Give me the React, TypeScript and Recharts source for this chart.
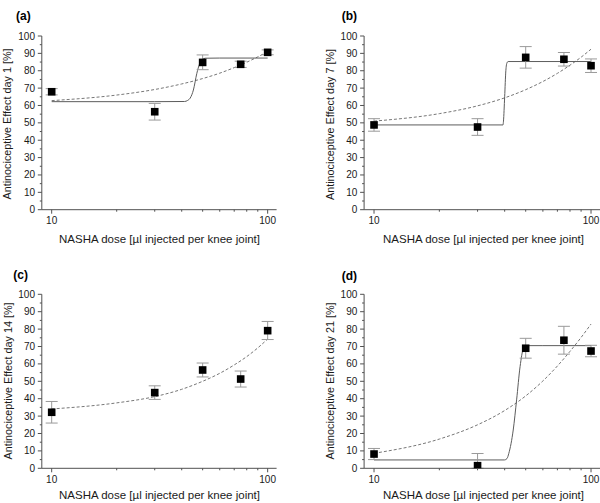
import React from 'react';
import { ComposedChart, Scatter, Line, XAxis, YAxis, ErrorBar, Label } from 'recharts';

// ---------- data ----------
const doses = [10, 30, 50, 75, 100];
const xTicks = [10, 20, 30, 40, 50, 60, 70, 80, 90, 100];
const yTicks = [0, 5, 10, 15, 20, 25, 30, 35, 40, 45, 50, 55, 60, 65, 70, 75, 80, 85, 90, 95, 100];

const day1Mean = [67.9, 56.4, 84.8, 83.7, 90.6];
const day1ErrLow = [1.8, 4.8, 4.2, 1.8, 1.4];
const day1ErrHigh = [1.8, 4.8, 4.3, 1.8, 1.4];

const day7Mean = [48.8, 47.6, 87.7, 86.6, 82.9];
const day7ErrLow = [3.6, 4.8, 6.2, 3.9, 3.9];
const day7ErrHigh = [3.6, 4.8, 6.2, 3.9, 3.9];

const day14Mean = [32.2, 43.5, 56.5, 51.3, 79.1];
const day14ErrLow = [6.2, 3.9, 4.0, 4.6, 5.1];
const day14ErrHigh = [6.2, 3.9, 4.0, 4.6, 5.3];

const day21Mean = [8.2, 1.5, 69.0, 73.6, 67.4];
const day21ErrLow = [3.2, 1.5, 5.7, 8.0, 3.3];
const day21ErrHigh = [3.2, 7.0, 5.7, 8.0, 3.3];

// sigmoid (solid) fit curves
const day1SigX = [10, 30, 41.2, 42.6, 43.8, 45.3, 47, 48.4, 49.6, 51.5, 60, 100];
const day1SigY = [62.2, 62.2, 62.3, 62.9, 64.3, 68.9, 78.5, 84, 86.4, 87.2, 87.3, 87.3];

const day7SigX = [10, 39.3, 39.5, 40.0, 40.5, 41.0, 41.5, 100];
const day7SigY = [48.8, 48.8, 51, 65, 80, 84.6, 85.3, 85.3];

const day21SigX = [10, 39.9, 41.0, 41.8, 43.8, 45.4, 47.1, 48.8, 51.5, 60, 100];
const day21SigY = [4.8, 4.8, 5.6, 8.6, 22, 39.3, 58.4, 68.6, 70.5, 70.5, 70.5];

// dashed fit curves
const dashX = [10, 20, 30, 40, 50, 60, 70, 80, 90, 100];
const day1DashY = [62.8, 66.0, 69.2, 72.4, 75.5, 78.6, 81.8, 84.9, 88.0, 91.0];
const day7DashY = [51.0, 55.3, 59.8, 64.4, 69.1, 73.8, 78.5, 83.2, 87.8, 92.4];
const day14DashY = [34.1, 37.6, 41.2, 45.4, 50.0, 54.6, 59.4, 64.2, 69.2, 74.3];
const day21DashY = [8.6, 16.8, 25.0, 33.2, 41.6, 50.2, 58.8, 67.2, 75.2, 82.9];

// ---------- styles ----------
const FONT = '"Liberation Sans", Arial, Helvetica, sans-serif';
const AXIS = '#505050';
const TEXT = '#1a1a1a';

const buildPoints = (mean: number[], lo: number[], hi: number[]) =>
  doses.map((x, i) => ({ x, y: mean[i], err: [lo[i], hi[i]] }));
const buildCurve = (xs: number[], ys: number[]) => xs.map((x, i) => ({ x, y: ys[i] }));

const Square = (props: any) => {
  const { cx, cy } = props;
  if (cx == null || cy == null) return null;
  return <rect x={cx - 3.8} y={cy - 3.8} width={7.6} height={7.6} fill="#000" />;
};

const YTick = (props: any) => {
  const { x, y, payload } = props;
  const major = payload.value % 10 === 0;
  return (
    <g>
      <line x1={x - (major ? 4 : 2)} x2={x} y1={y} y2={y} stroke={AXIS} strokeWidth={1} />
      {major && (
        <text x={x - 6.8} y={y} dy="0.35em" textAnchor="end" fontSize={10} fontFamily={FONT} fill={TEXT}>
          {payload.value}
        </text>
      )}
    </g>
  );
};

const XTick = (props: any) => {
  const { x, y, payload } = props;
  const major = payload.value === 10 || payload.value === 100;
  return (
    <g>
      <line x1={x} x2={x} y1={y} y2={y + (major ? 4 : 2)} stroke={AXIS} strokeWidth={1} />
      {major && (
        <text x={x} y={y + 14.5} textAnchor="middle" fontSize={10} fontFamily={FONT} fill={TEXT}>
          {payload.value}
        </text>
      )}
    </g>
  );
};

type PanelProps = {
  left: number;
  top: number;
  height: number;
  marginTop: number;
  marginBottom: number;
  marginRight: number;
  yAxisWidth: number;
  points: { x: number; y: number; err: number[] }[];
  sigmoid?: { x: number; y: number }[];
  dashed: { x: number; y: number }[];
  title: string;
  titleX: number;
  titleY: number;
  yLabel: string;
  yLabelX: number;
  yLabelY: number;
  xLabelX: number;
  xLabelY: number;
};

const Panel = (p: PanelProps) => (
  <div style={{ position: 'absolute', left: p.left, top: p.top, width: 300, height: p.height }}>
    <ComposedChart
      width={300}
      height={p.height}
      margin={{ top: p.marginTop, right: p.marginRight, bottom: p.marginBottom, left: 0 }}
    >
      <XAxis
        dataKey="x"
        type="number"
        scale="log"
        domain={[9, 110]}
        allowDataOverflow
        ticks={xTicks}
        interval={0}
        tick={<XTick />}
        tickLine={false}
        tickSize={0}
        tickMargin={0}
        axisLine={{ stroke: AXIS, strokeWidth: 1 }}
        height={30}
      >
        <Label
          content={() => (
            <text x={p.xLabelX} y={p.xLabelY} textAnchor="middle" fontSize={11.5} fontFamily={FONT} fill={TEXT}>
              NASHA dose [µl injected per knee joint]
            </text>
          )}
        />
      </XAxis>
      <YAxis
        dataKey="y"
        type="number"
        domain={[0, 100]}
        allowDataOverflow
        ticks={yTicks}
        interval={0}
        tick={<YTick />}
        tickLine={false}
        tickSize={0}
        tickMargin={0}
        axisLine={{ stroke: AXIS, strokeWidth: 1 }}
        width={p.yAxisWidth}
      >
        <Label
          content={() => (
            <text
              x={p.yLabelX}
              y={p.yLabelY}
              transform={`rotate(-90, ${p.yLabelX}, ${p.yLabelY})`}
              textAnchor="middle"
              fontSize={10.8}
              fontFamily={FONT}
              fill={TEXT}
            >
              {p.yLabel}
            </text>
          )}
        />
        <Label
          content={() => (
            <text x={p.titleX} y={p.titleY} fontSize={12} fontWeight="bold" fontFamily={FONT} fill="#000">
              {p.title}
            </text>
          )}
        />
      </YAxis>
      <Line
        data={p.dashed}
        dataKey="y"
        type="monotone"
        stroke="#777777"
        strokeWidth={1}
        strokeDasharray="3 2"
        dot={false}
        activeDot={false}
        isAnimationActive={false}
      />
      {p.sigmoid && (
        <Line
          data={p.sigmoid}
          dataKey="y"
          type="monotone"
          stroke="#5c5c5c"
          strokeWidth={1}
          dot={false}
          activeDot={false}
          isAnimationActive={false}
        />
      )}
      <Scatter data={p.points} dataKey="y" shape={<Square />} isAnimationActive={false}>
        <ErrorBar dataKey="err" direction="y" width={6} stroke="#9a9a9a" strokeWidth={1} />
      </Scatter>
    </ComposedChart>
  </div>
);

export default function App() {
  return (
    <div
      style={{
        position: 'absolute',
        left: 0,
        top: 0,
        width: 600,
        height: 503,
        background: '#fff',
        fontFamily: FONT,
        overflow: 'hidden',
      }}
    >
      <Panel
        left={0}
        top={0}
        height={250}
        marginTop={36}
        marginBottom={10.3}
        marginRight={23.4}
        yAxisWidth={41.8}
        points={buildPoints(day1Mean, day1ErrLow, day1ErrHigh)}
        sigmoid={buildCurve(day1SigX, day1SigY)}
        dashed={buildCurve(dashX, day1DashY)}
        title="(a)"
        titleX={16}
        titleY={19.5}
        yLabel="Antinociceptive Effect day 1 [%]"
        yLabelX={11}
        yLabelY={124}
        xLabelX={159.5}
        xLabelY={242.5}
      />
      <Panel
        left={300}
        top={0}
        height={250}
        marginTop={36}
        marginBottom={10.3}
        marginRight={0}
        yAxisWidth={64.1}
        points={buildPoints(day7Mean, day7ErrLow, day7ErrHigh)}
        sigmoid={buildCurve(day7SigX, day7SigY)}
        dashed={buildCurve(dashX, day7DashY)}
        title="(b)"
        titleX={41.7}
        titleY={19.5}
        yLabel="Antinociceptive Effect day 7 [%]"
        yLabelX={34}
        yLabelY={124.5}
        xLabelX={183.5}
        xLabelY={242.5}
      />
      <Panel
        left={0}
        top={250}
        height={253}
        marginTop={44.3}
        marginBottom={4.7}
        marginRight={23.4}
        yAxisWidth={41.8}
        points={buildPoints(day14Mean, day14ErrLow, day14ErrHigh)}
        dashed={buildCurve(dashX, day14DashY)}
        title="(c)"
        titleX={13.3}
        titleY={28.5}
        yLabel="Antinociceptive Effect day 14 [%]"
        yLabelX={11.5}
        yLabelY={131}
        xLabelX={159.5}
        xLabelY={248.5}
      />
      <Panel
        left={300}
        top={250}
        height={253}
        marginTop={44.3}
        marginBottom={4.7}
        marginRight={0}
        yAxisWidth={64.1}
        points={buildPoints(day21Mean, day21ErrLow, day21ErrHigh)}
        sigmoid={buildCurve(day21SigX, day21SigY)}
        dashed={buildCurve(dashX, day21DashY)}
        title="(d)"
        titleX={41.7}
        titleY={30}
        yLabel="Antinociceptive Effect day 21 [%]"
        yLabelX={34}
        yLabelY={131}
        xLabelX={183.5}
        xLabelY={248.5}
      />
    </div>
  );
}
